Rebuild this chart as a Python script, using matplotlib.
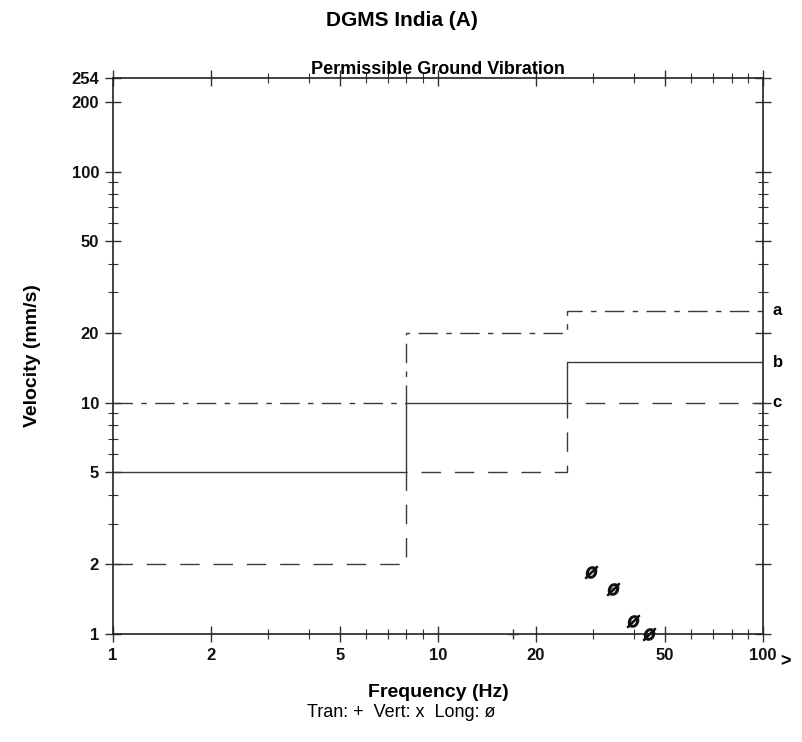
import matplotlib
matplotlib.use("Agg")
from matplotlib import pyplot as plt
from matplotlib import transforms
from matplotlib.ticker import FixedLocator, NullFormatter

plt.rcParams['font.family'] = ['Liberation Sans', 'DejaVu Sans']

# limit curves (DGMS India): breakpoints in Hz and velocity for each band
freq_edges = [1, 8, 25, 100]
curve_a = [10, 20, 25]   # dash-dot
curve_b = [5, 10, 15]    # solid
curve_c = [2, 5, 10]     # long dash
curve_names = ["a", "b", "c"]

# measured peaks
tran_freq = [17]
tran_vel = [1.0]
vert_freq = [34.5]
vert_vel = [1.57]
long_freq = [29.6, 34.5, 39.8, 44.6]
long_vel = [1.86, 1.57, 1.14, 1.0]

x_ticks = [1, 2, 5, 10, 20, 50, 100]
y_ticks = [1, 2, 5, 10, 20, 50, 100, 200, 254]

fig = plt.figure(figsize=(8.03, 7.42), dpi=100)
ax = fig.add_axes([0.1407, 0.1456, 0.8095, 0.7493])
ax.set_xscale('log')
ax.set_yscale('log')
ax.set_xlim(1, 100)
ax.set_ylim(1, 254)

line_col = '#3a3a3a'
styles = [dict(dashes=(14, 6, 4, 6)), dict(linestyle='-'), dict(dashes=(14, 10))]
for vals, st in zip([curve_a, curve_b, curve_c], styles):
    ax.step(freq_edges, vals + [vals[-1]], where='post', color=line_col, lw=1, **st)

# curve labels on the right
trans = transforms.blended_transform_factory(ax.transAxes, ax.transData)
for name, vals in zip(curve_names, [curve_a, curve_b, curve_c]):
    ax.text(1.015, vals[-1], name, transform=trans, ha='left', va='center',
            fontsize=12, fontweight='bold')

ax.scatter(tran_freq, tran_vel, marker='+', s=60, color='#333', lw=1, zorder=4, clip_on=False)
ax.scatter(vert_freq, vert_vel, marker='x', s=30, color='#999', lw=1, zorder=3, clip_on=False)
ax.scatter(long_freq, long_vel, marker='$ø$', s=80, color='#111', zorder=5, clip_on=False)

for s in ax.spines.values():
    s.set_linewidth(1.2)
    s.set_color('#222')

ax.xaxis.set_major_locator(FixedLocator(x_ticks))
ax.yaxis.set_major_locator(FixedLocator(y_ticks))
ax.set_xticklabels([str(v) for v in x_ticks])
ax.set_yticklabels([str(v) for v in y_ticks])
ax.xaxis.set_minor_formatter(NullFormatter())
ax.yaxis.set_minor_formatter(NullFormatter())
ax.tick_params(which='both', direction='inout', top=True, right=True, colors='#333')
ax.tick_params(which='major', length=12, width=1, labelsize=12, pad=4, labelcolor='#111')
ax.tick_params(which='minor', length=7, width=0.8)
for lab in ax.get_xticklabels() + ax.get_yticklabels():
    lab.set_fontweight('bold')

ax.text(1.035, -0.035, '>', transform=ax.transAxes, fontsize=13, fontweight='bold',
        ha='center', va='top')

fig.text(0.5, 0.972, 'DGMS India (A)', ha='center', va='center', fontsize=15, fontweight='bold')
ax.set_title('Permissible Ground Vibration', fontsize=13, fontweight='bold', pad=2)
ax.set_ylabel('Velocity (mm/s)', fontsize=14, fontweight='bold', labelpad=22)
ax.set_xlabel('Frequency (Hz)', fontsize=14, fontweight='bold', labelpad=15)
fig.text(0.5, 0.040, 'Tran: +  Vert: x  Long: ø', ha='center', va='center', fontsize=13)

fig.savefig('out.png', dpi=100)
